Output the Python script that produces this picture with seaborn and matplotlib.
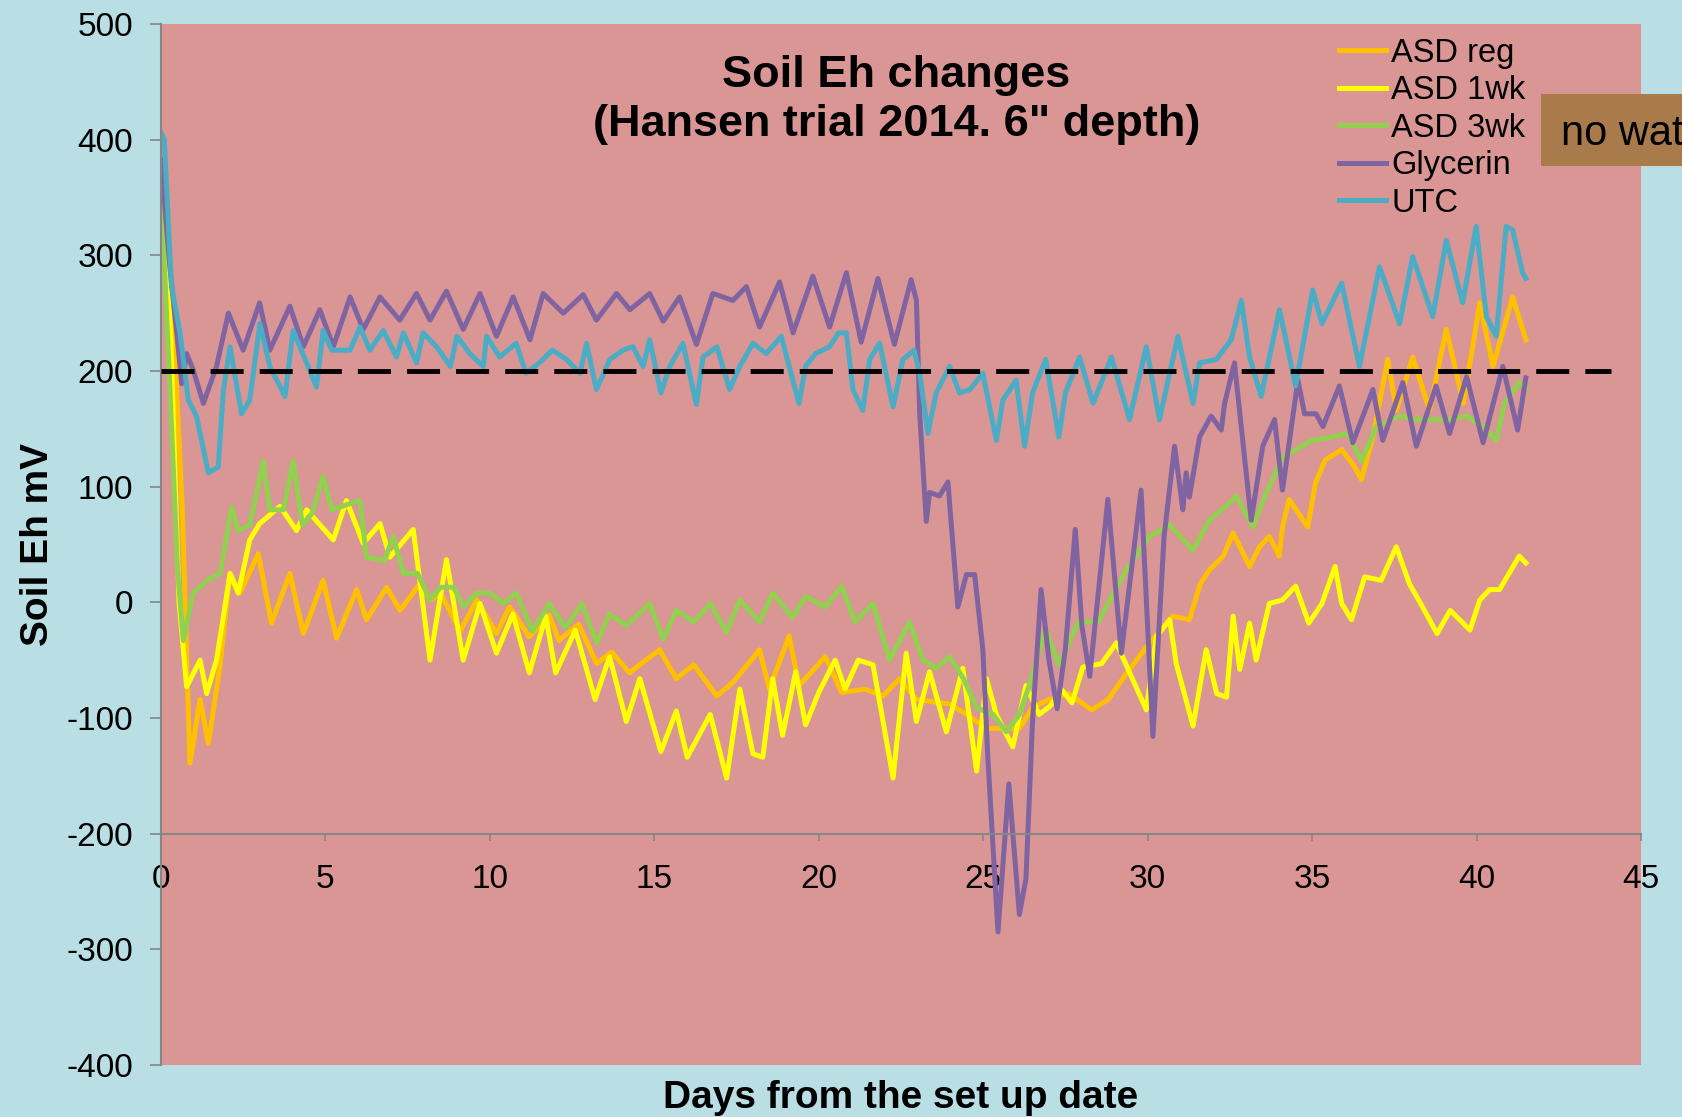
import matplotlib
matplotlib.use("Agg")
import matplotlib.pyplot as plt
from matplotlib.patches import Rectangle
import pandas as pd
import seaborn as sns

# readings taken off the chart (days from set up, Eh in mV)
reg_days = [0, 0.35, 0.65, 0.88, 1.19, 1.44, 1.79, 2.1, 2.4, 2.96, 3.36, 3.92, 4.33, 4.93, 5.34,
            5.95, 6.25, 6.86, 7.27, 7.87, 8.2, 8.5, 9.1, 9.6, 10.2, 10.6, 11.2, 11.8, 12.1, 12.7,
            13.25, 13.7, 14.25, 14.6, 15.16, 15.67, 16.2, 16.9, 17.4, 18.2, 18.5, 19.1, 19.4, 20.2, 20.7,
            21.4, 21.95, 22.46, 22.97, 23.98, 24.5, 25.1, 25.7, 26.1, 26.5, 27.0, 27.6, 28.3, 28.8, 29.45,
            30.06, 30.77, 31.27, 31.6, 31.88, 32.3, 32.6, 33.1, 33.4, 33.7, 34.0, 34.1, 34.3, 34.87, 35.1,
            35.4, 35.9, 36.3, 36.5, 36.85, 37.3, 37.56, 38.06, 38.57, 39.08, 39.6, 40.1, 40.5, 41.1, 41.5]
reg_mv = [365, 260, 80, -139, -84, -122, -56, 25, 8, 42, -18, 25, -27, 19, -31,
          11, -15, 13, -7, 16, 2, 8, -25, 2, -27, -4, -30, -11, -33, -19,
          -53, -43, -61, -53, -41, -66, -54, -81, -69, -41, -75, -29, -72, -47, -78,
          -75, -81, -66, -84, -88, -97, -109, -109, -109, -91, -84, -79, -93, -84, -58,
          -35, -12, -15, 16, 28, 40, 60, 31, 48, 57, 40, 65, 89, 65, 103,
          123, 132, 117, 106, 143, 210, 166, 212, 166, 236, 172, 259, 204, 264, 227]

wk1_days = [0, 0.3, 0.55, 0.78, 1.19, 1.39, 1.69, 2.1, 2.35, 2.7, 3.0, 3.62, 4.12, 4.43, 5.24,
            5.64, 6.15, 6.66, 6.96, 7.67, 8.18, 8.68, 9.19, 9.7, 10.2, 10.7, 11.2, 11.7, 12.0, 12.6,
            13.2, 13.64, 14.15, 14.56, 15.2, 15.67, 16.0, 16.7, 17.2, 17.6, 18.0, 18.3, 18.6, 18.9, 19.3,
            19.6, 20.0, 20.5, 20.8, 21.2, 21.65, 22.26, 22.66, 22.97, 23.37, 23.88, 24.38, 24.8, 25.1, 25.4,
            25.9, 26.3, 26.7, 27.02, 27.4, 27.7, 28.03, 28.6, 29.05, 29.55, 29.96, 30.26, 30.67, 30.87, 31.38,
            31.78, 32.1, 32.4, 32.6, 32.8, 33.1, 33.3, 33.7, 34.1, 34.5, 34.9, 35.3, 35.7, 35.9, 36.2,
            36.6, 37.1, 37.56, 37.96, 38.3, 38.8, 39.2, 39.8, 40.1, 40.4, 40.7, 41.3, 41.5]
wk1_mv = [360, 230, 0, -73, -50, -79, -50, 25, 8, 54, 68, 83, 62, 80, 54,
          88, 51, 68, 39, 63, -50, 37, -50, -1, -44, -10, -61, -12, -61, -24,
          -84, -47, -103, -66, -129, -94, -134, -97, -152, -75, -131, -134, -66, -115, -60,
          -106, -78, -50, -75, -50, -54, -152, -44, -103, -60, -112, -57, -146, -66, -97,
          -125, -72, -97, -90, -76, -87, -56, -53, -35, -67, -93, -30, -15, -53, -107,
          -41, -79, -82, -12, -58, -18, -50, -1, 2, 14, -18, -1, 31, -1, -15,
          22, 19, 48, 16, -1, -27, -7, -24, 2, 11, 11, 40, 34]

wk3_days = [0, 0.25, 0.5, 0.68, 0.98, 1.4, 1.8, 2.15, 2.35, 2.7, 3.11, 3.31, 3.72, 4.02, 4.3,
            4.6, 4.93, 5.2, 5.5, 6.05, 6.25, 6.8, 7.06, 7.37, 7.8, 8.18, 8.5, 8.9, 9.2, 9.6,
            10.0, 10.4, 10.8, 11.3, 11.8, 12.3, 12.8, 13.25, 13.64, 14.15, 14.86, 15.27, 15.67, 16.2, 16.7,
            17.2, 17.6, 18.2, 18.6, 19.2, 19.6, 20.2, 20.7, 21.1, 21.65, 22.15, 22.76, 23.17, 23.57, 23.98,
            24.4, 24.8, 25.3, 25.7, 26.1, 26.4, 26.9, 27.3, 27.9, 28.5, 29.0, 29.35, 30.06, 30.67, 31.38,
            31.88, 32.49, 32.7, 33.2, 33.6, 34.1, 34.5, 35.0, 35.6, 36.1, 36.5, 36.95, 37.66, 38.2, 39.2,
            39.7, 40.2, 40.6, 40.85, 41.3, 41.5]
wk3_mv = [355, 200, 30, -33, 8, 19, 25, 82, 62, 67, 122, 80, 80, 122, 67,
          77, 109, 80, 83, 88, 39, 36, 57, 25, 25, 2, 13, 13, -4, 8,
          8, -1, 8, -25, -1, -22, -1, -35, -10, -20, -1, -32, -7, -17, -1,
          -26, 2, -17, 8, -13, 5, -4, 14, -17, -1, -50, -17, -50, -57, -47,
          -66, -91, -97, -112, -97, -72, -23, -54, -17, -17, 10, 28, 57, 67, 45,
          71, 86, 92, 65, 94, 125, 132, 140, 143, 146, 122, 152, 161, 158, 158,
          161, 152, 140, 172, 190, 185]

gly_days = [0, 0.27, 0.48, 0.63, 0.78, 0.98, 1.29, 1.69, 2.05, 2.5, 3.0, 3.31, 3.92, 4.33, 4.83,
            5.24, 5.75, 6.15, 6.66, 7.26, 7.77, 8.18, 8.68, 9.19, 9.7, 10.2, 10.71, 11.22, 11.62, 12.23,
            12.84, 13.24, 13.85, 14.26, 14.86, 15.27, 15.77, 16.28, 16.78, 17.39, 17.8, 18.2, 18.81, 19.22, 19.82,
            20.33, 20.84, 21.29, 21.8, 22.3, 22.81, 22.97, 23.07, 23.27, 23.37, 23.67, 23.93, 23.98, 24.23, 24.49,
            24.74, 24.99, 25.14, 25.45, 25.78, 26.1, 26.3, 26.5, 26.76, 27.0, 27.25, 27.5, 27.8, 28.0, 28.24,
            28.79, 29.2, 29.8, 30.16, 30.5, 30.82, 31.07, 31.17, 31.27, 31.58, 31.93, 32.24, 32.34, 32.64, 33.15,
            33.5, 33.86, 34.1, 34.57, 34.77, 35.12, 35.33, 35.83, 36.24, 36.85, 37.15, 37.76, 38.17, 38.77, 39.18,
            39.7, 40.2, 40.8, 41.25, 41.5]
gly_mv = [383, 290, 233, 189, 215, 201, 172, 204, 250, 218, 259, 218, 256, 221, 253,
          221, 264, 236, 264, 244, 267, 244, 269, 236, 267, 230, 264, 227, 267, 250,
          266, 244, 267, 253, 267, 243, 264, 223, 267, 261, 273, 238, 277, 233, 282,
          238, 285, 225, 280, 223, 279, 261, 163, 70, 95, 92, 104, 85, -4, 24,
          24, -41, -134, -285, -157, -270, -239, -103, 11, -50, -92, -40, 63, -20, -64,
          89, -44, 97, -116, 57, 135, 80, 112, 91, 143, 161, 149, 172, 207, 71,
          135, 158, 97, 192, 163, 163, 152, 187, 138, 184, 140, 190, 135, 187, 146,
          195, 138, 204, 149, 194]

utc_days = [0, 0.1, 0.32, 0.58, 0.83, 1.08, 1.44, 1.74, 1.9, 2.1, 2.45, 2.7, 3.01, 3.31, 3.77,
            4.02, 4.43, 4.73, 4.93, 5.19, 5.75, 6.05, 6.35, 6.76, 7.16, 7.37, 7.77, 7.97, 8.38, 8.8,
            9.0, 9.39, 9.8, 9.9, 10.3, 10.8, 11.1, 11.5, 11.9, 12.33, 12.74, 12.94, 13.24, 13.65, 14.05,
            14.35, 14.66, 14.86, 15.2, 15.47, 15.87, 16.28, 16.48, 16.9, 17.29, 17.6, 18.0, 18.4, 18.86, 19.1,
            19.4, 19.6, 19.9, 20.33, 20.6, 20.84, 21.04, 21.34, 21.55, 21.85, 22.26, 22.56, 22.9, 23.07, 23.32,
            23.57, 23.98, 24.28, 24.6, 24.99, 25.4, 25.6, 26.0, 26.26, 26.5, 26.9, 27.3, 27.5, 27.93, 28.34,
            28.9, 29.45, 29.96, 30.36, 30.92, 31.38, 31.58, 32.09, 32.54, 32.85, 33.1, 33.45, 34.01, 34.5, 35.02,
            35.3, 35.9, 36.44, 37.05, 37.66, 38.06, 38.67, 39.08, 39.58, 39.99, 40.3, 40.6, 40.9, 41.1, 41.4,
            41.5]
utc_mv = [406, 400, 273, 233, 175, 161, 112, 117, 184, 221, 163, 175, 241, 204, 178,
          235, 207, 186, 235, 218, 218, 238, 218, 235, 212, 233, 207, 233, 221, 204,
          230, 215, 204, 230, 212, 224, 198, 207, 218, 210, 198, 224, 184, 210, 218,
          221, 204, 227, 181, 204, 224, 171, 212, 221, 184, 204, 224, 215, 230, 204,
          172, 204, 215, 221, 233, 233, 184, 166, 210, 224, 169, 210, 218, 198, 146,
          181, 204, 181, 184, 198, 140, 175, 192, 135, 181, 210, 143, 181, 212, 172,
          212, 158, 221, 158, 230, 172, 207, 210, 227, 261, 212, 178, 253, 187, 270,
          241, 276, 204, 290, 241, 299, 247, 313, 259, 325, 247, 230, 325, 322, 285,
          280]

threshold_days = [0, 44.1]
threshold_mv = [200, 200]

series_names = ["ASD reg", "ASD 1wk", "ASD 3wk", "Glycerin", "UTC"]
series_colors = ["#FFC000", "#FFFF00", "#92D050", "#8064A2", "#4BACC6"]
series_data = [(reg_days, reg_mv), (wk1_days, wk1_mv), (wk3_days, wk3_mv),
               (gly_days, gly_mv), (utc_days, utc_mv)]

plt.rcParams['font.family'] = ['Liberation Sans', 'DejaVu Sans']
plt.rcParams['axes.unicode_minus'] = False

fig = plt.figure(figsize=(16.82, 11.17), dpi=100, facecolor='#B9DFE4')
ax = fig.add_axes([0.0957, 0.0466, 0.8799, 0.9319])
ax.set_facecolor('#D99694')

for name, color, (d, v) in zip(series_names, series_colors, series_data):
    sns.lineplot(x=d, y=v, color=color, linewidth=3.6, label=name,
                 estimator=None, sort=False, ax=ax)

ax.plot(threshold_days, threshold_mv, color='black', linewidth=3.5,
        linestyle=(0, (6.8, 3.3)), zorder=5)

ax.set_xlim(0, 45)
ax.set_ylim(-400, 500)
ax.set_xticks(range(0, 46, 5))
ax.set_yticks(range(-400, 501, 100))

for s in ['top', 'right']:
    ax.spines[s].set_visible(False)
ax.spines['left'].set_color('#868686')
ax.spines['left'].set_linewidth(1.5)
ax.spines['bottom'].set_position(('data', -200))
ax.spines['bottom'].set_color('#868686')
ax.spines['bottom'].set_linewidth(1.5)

ax.tick_params(axis='y', labelsize=24, length=8, width=1.2, color='#868686', pad=12)
ax.tick_params(axis='x', labelsize=24, length=5, width=1.2, color='#868686', pad=17)

ax.set_xlabel('Days from the set up date', fontsize=28, fontweight='bold')
ax.xaxis.set_label_coords(0.5, -0.0145)
ax.set_ylabel('Soil Eh mV', fontsize=28, fontweight='bold')
ax.yaxis.set_label_coords(-0.071, 0.5)

ax.text(0.497, 0.970, 'Soil Eh changes\n(Hansen trial 2014. 6" depth)',
        transform=ax.transAxes, ha='center', va='top', fontsize=32.5,
        fontweight='bold', linespacing=1.25)

ax.legend(loc='upper left', bbox_to_anchor=(0.796, 0.987), frameon=False,
          fontsize=23.5, handlelength=1.45, handletextpad=0.15, labelspacing=0.2,
          borderpad=0, borderaxespad=0)

# boxed note running off the right edge, as in the original slide
fig.add_artist(Rectangle((0.916, 0.851), 0.2, 0.0645, transform=fig.transFigure,
                         facecolor='#A97A4A', edgecolor='none', zorder=10))
fig.text(0.928, 0.870, 'no water', fontsize=30, ha='left', va='baseline', zorder=11)

fig.savefig('out.png', dpi=100, facecolor=fig.get_facecolor())
